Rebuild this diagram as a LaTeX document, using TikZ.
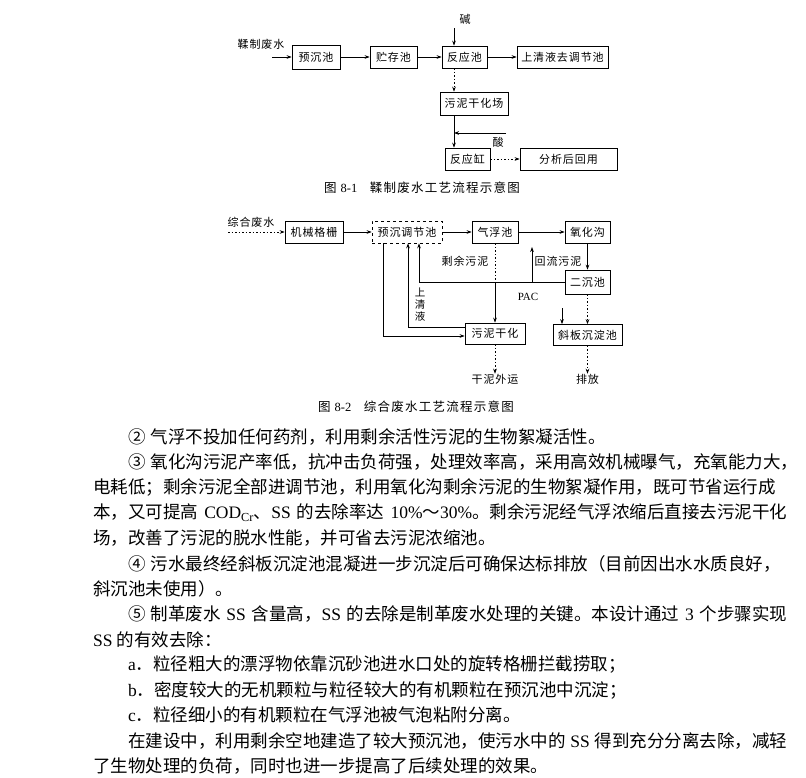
\documentclass[tikz,border=0pt]{standalone}
\usepackage{fontspec}
\usepackage{tikz}
\usetikzlibrary{arrows.meta, positioning, calc}
\setmainfont{Noto Sans CJK SC}
\newfontfamily\lat{Liberation Serif}
\newfontfamily\boxfont[LetterSpace=8]{Noto Sans CJK SC}
\newfontfamily\capfont[LetterSpace=10]{Noto Sans CJK SC}
\newcommand\en[1]{{\lat #1}}
\newcommand\itm[1]{#1\kern5pt\relax}
% stretch between CJK characters so full lines can be justified
\XeTeXinterchartokenstate=1
\newcommand\cjkglue{\hskip0pt plus 2pt\relax}
\XeTeXinterchartoks 1 1 = {\cjkglue}
\XeTeXinterchartoks 1 2 = {\cjkglue}
\XeTeXinterchartoks 1 3 = {\cjkglue}
\XeTeXinterchartoks 2 1 = {\cjkglue}
\XeTeXinterchartoks 3 1 = {\cjkglue}
\XeTeXinterchartoks 3 2 = {\cjkglue}
\XeTeXinterchartoks 3 3 = {\cjkglue}

\begin{document}
\begin{tikzpicture}[x=1pt, y=-1pt,
  every node/.style={inner sep=0pt},
  box/.style={draw, line width=0.7pt, minimum height=22pt,
              font=\boxfont\fontsize{11}{12}\selectfont},
  lbl/.style={font=\boxfont\fontsize{11}{12}\selectfont},
  figcap/.style={font=\capfont\fontsize{12.5}{14}\selectfont},
  para/.style={anchor=west, font=\fontsize{17.5}{20}\selectfont},
  arr/.style={-{Stealth[length=5pt, width=3.6pt]}, line width=0.7pt},
  dotline/.style={dash pattern=on 1.5pt off 2pt},
]
\useasboundingbox (0,0) rectangle (806,777);

% figure 8-1
\node[lbl] (src1) at (261,44) {鞣制废水};
\coordinate (in1) at (272,57);
\node[box, minimum width=48pt, minimum height=24pt] (pre) at (316,57) {预沉池};
\node[box, minimum width=47pt] (store) at (393.5,57) {贮存池};
\node[box, minimum width=45pt] (react) at (464.5,57) {反应池};
\node[box, minimum width=91pt] (upper) at (562.5,57) {上清液去调节池};
\node[lbl] (alkali) at (465,19) {碱};
\node[box, minimum width=68pt, minimum height=23pt] (dry) at (474,103.5) {污泥干化场};
\node[box, minimum width=45pt] (tank) at (467.5,159) {反应缸};
\node[box, minimum width=97pt] (reuse) at (568.5,159) {分析后回用};
\node[lbl] (acid) at (498,142) {酸};
\coordinate (acidin) at (506,133);
\coordinate (ax1) at (454,57);
\node[figcap] (cap1) at (422,188) {图 \en{8-1}\quad 鞣制废水工艺流程示意图};

\draw[arr] (in1) -- (pre);
\draw[arr] (pre) -- (store);
\draw[arr] (store) -- (react);
\draw[arr] (react) -- (upper);
\draw[arr] (ax1 |- alkali.south) ++(0,4) -- (ax1 |- react.north);
\draw[arr, dotline] (ax1 |- react.south) -- (ax1 |- dry.north);
\draw[arr] (ax1 |- dry.south) -- (ax1 |- tank.north);
\draw[arr] (acidin) -- (acidin -| ax1);
\draw[arr, dotline] (tank) -- (reuse);

% figure 8-2
\node[lbl] (src2) at (251,222) {综合废水};
\coordinate (in2) at (228,232);
\node[box, minimum width=58pt] (grid) at (314,232) {机械格栅};
\node[box, dashed, minimum width=70pt] (adj) at (407,232) {预沉调节池};
\node[box, minimum width=46pt] (flot) at (495,232) {气浮池};
\node[box, minimum width=45pt] (ditch) at (587.5,232) {氧化沟};
\node[box, minimum width=45pt, minimum height=24pt] (sec) at (587.5,282) {二沉池};
\node[box, minimum width=60pt, minimum height=21pt] (sdry) at (495,333.5) {污泥干化};
\node[box, minimum width=69pt, minimum height=21pt] (incl) at (587.5,335) {斜板沉淀池};
\node[lbl] (out1) at (495,379) {干泥外运};
\node[lbl] (out2) at (587.5,379) {排放};
\node[lbl] (exc) at (465,261) {剩余污泥};
\node[lbl] (ret) at (558,261) {回流污泥};
\node[lbl, align=center, font=\boxfont\fontsize{10.5}{12}\selectfont] (sup) at (420,305) {上\\清\\液};
\node[lbl, font=\lat\fontsize{11}{12}\selectfont] (pac) at (528,297) {PAC};
\coordinate (retup) at (532,247);
\coordinate (pacin) at (562,308);
\coordinate (cross) at (495,282);
\node[figcap] (cap2) at (416,407) {图 \en{8-2}\quad 综合废水工艺流程示意图};

\draw[arr, dotline] (in2) -- (grid);
\draw[arr] (grid) -- (adj);
\draw[arr] (adj) -- (flot);
\draw[arr] (flot) -- (ditch);
\draw[arr] (ditch) -- (sec);
\draw[arr] (sec.west) -| ([xshift=12pt]adj.south);
\draw[arr] (retup |- sec.west) -- (retup);
\draw[dotline, line width=0.7pt] (flot) -- (cross);
\draw[arr] (cross) -- (sdry);
\draw[arr] ([xshift=-24pt]adj.south) |- ([yshift=-2.5pt]sdry.west);
\draw[arr] ([yshift=6.5pt]sdry.west) -| ([xshift=1pt]adj.south);
\draw[arr, dotline] (sec) -- (incl);
\draw[arr] (pacin) -- (pacin |- incl.north);
\draw[arr, dotline] (sdry) -- (out1);
\draw[arr, dotline] (incl) -- (out2);

% text
\node[para] (l1) at (128,437) {\itm{②}气浮不投加任何药剂，利用剩余活性污泥的生物絮凝活性。};
\node[para] (l2) at (128,462.3) {\hbox to 659pt{\itm{③}氧化沟污泥产率低，抗冲击负荷强，处理效率高，采用高效机械曝气，充氧能力大，}};
\node[para] (l3) at (93,487.6) {\hbox to 694pt{电耗低；剩余污泥全部进调节池，利用氧化沟剩余污泥的生物絮凝作用，既可节省运行成}};
\node[para] (l4) at (93,512.9) {\hbox to 694pt{本，又可提高 \en{COD\textsubscript{Cr}}、\en{SS} 的去除率达 \en{10\%}～\en{30\%}。剩余污泥经气浮浓缩后直接去污泥干化}};
\node[para] (l5) at (93,538.2) {场，改善了污泥的脱水性能，并可省去污泥浓缩池。};
\node[para] (l6) at (128,563.5) {\hbox to 659pt{\itm{④}污水最终经斜板沉淀池混凝进一步沉淀后可确保达标排放（目前因出水水质良好，}};
\node[para] (l7) at (93,588.8) {斜沉池未使用）。};
\node[para] (l8) at (128,614.1) {\hbox to 659pt{\itm{⑤}制革废水 \en{SS} 含量高，\en{SS} 的去除是制革废水处理的关键。本设计通过 \en{3} 个步骤实现}};
\node[para] (l9) at (93,639.4) {\en{SS} 的有效去除：};
\node[para] (l10) at (128,664.7) {\en{a}．粒径粗大的漂浮物依靠沉砂池进水口处的旋转格栅拦截捞取；};
\node[para] (l11) at (128,690) {\en{b}．密度较大的无机颗粒与粒径较大的有机颗粒在预沉池中沉淀；};
\node[para] (l12) at (128,715.3) {\en{c}．粒径细小的有机颗粒在气浮池被气泡粘附分离。};
\node[para] (l13) at (128,740.6) {\hbox to 659pt{在建设中，利用剩余空地建造了较大预沉池，使污水中的 \en{SS} 得到充分分离去除，减轻}};
\node[para] (l14) at (93,765.9) {了生物处理的负荷，同时也进一步提高了后续处理的效果。};
\end{tikzpicture}
\end{document}
